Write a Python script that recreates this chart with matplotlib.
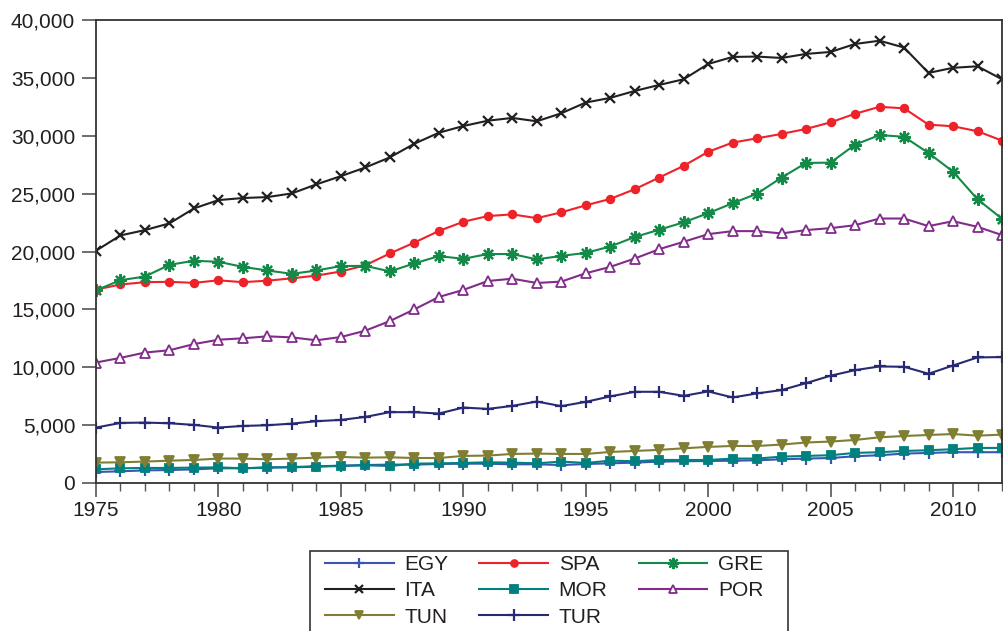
import numpy as np
import matplotlib
matplotlib.use("Agg")
import matplotlib.pyplot as plt
from matplotlib.patches import Rectangle
from matplotlib.ticker import FuncFormatter, MultipleLocator

plt.rcParams['font.family'] = ['Liberation Sans', 'DejaVu Sans']

years = np.arange(1975, 2013)

egy = [0.95, 1.01, 1.09, 1.12, 1.18, 1.27, 1.27, 1.33, 1.38, 1.44,
       1.50, 1.55, 1.59, 1.59, 1.64, 1.67, 1.67, 1.61, 1.62, 1.55,
       1.64, 1.70, 1.76, 1.85, 1.88, 1.90, 1.93, 1.96, 2.05, 2.11,
       2.16, 2.31, 2.40, 2.54, 2.60, 2.66, 2.66, 2.66]
spa = [16.71, 17.15, 17.35, 17.38, 17.29, 17.51, 17.35, 17.48, 17.68, 17.92,
       18.27, 18.81, 19.83, 20.77, 21.77, 22.57, 23.06, 23.21, 22.88, 23.38,
       23.99, 24.54, 25.38, 26.39, 27.40, 28.61, 29.41, 29.78, 30.16, 30.59,
       31.16, 31.90, 32.50, 32.37, 30.96, 30.82, 30.39, 29.58]
gre = [16.65, 17.52, 17.84, 18.85, 19.20, 19.11, 18.67, 18.36, 18.07, 18.36,
       18.74, 18.76, 18.28, 18.97, 19.60, 19.37, 19.78, 19.78, 19.32, 19.62,
       19.88, 20.43, 21.25, 21.88, 22.52, 23.31, 24.17, 25.00, 26.39, 27.65,
       27.68, 29.23, 30.06, 29.91, 28.51, 26.90, 24.51, 22.83]
ita = [20.07, 21.39, 21.85, 22.43, 23.72, 24.44, 24.62, 24.70, 25.02, 25.80,
       26.51, 27.26, 28.13, 29.31, 30.26, 30.84, 31.30, 31.54, 31.25, 31.94,
       32.87, 33.27, 33.87, 34.39, 34.88, 36.20, 36.81, 36.84, 36.72, 37.07,
       37.24, 37.93, 38.21, 37.62, 35.43, 35.87, 36.00, 34.88]
mor = [1.18, 1.27, 1.30, 1.30, 1.33, 1.35, 1.27, 1.35, 1.35, 1.41,
       1.47, 1.53, 1.47, 1.67, 1.70, 1.73, 1.79, 1.76, 1.70, 1.85,
       1.73, 1.93, 1.88, 1.99, 1.99, 1.99, 2.11, 2.11, 2.28, 2.34,
       2.40, 2.60, 2.66, 2.77, 2.83, 2.92, 3.03, 3.03]
por = [10.41, 10.81, 11.27, 11.47, 12.00, 12.38, 12.50, 12.67, 12.58, 12.33,
       12.61, 13.16, 13.99, 15.00, 16.07, 16.68, 17.45, 17.65, 17.28, 17.40,
       18.12, 18.67, 19.39, 20.20, 20.84, 21.50, 21.76, 21.76, 21.56, 21.85,
       22.02, 22.27, 22.85, 22.85, 22.19, 22.62, 22.13, 21.42]
tun = [1.76, 1.79, 1.85, 1.93, 1.99, 2.11, 2.11, 2.05, 2.11, 2.19,
       2.25, 2.19, 2.22, 2.16, 2.16, 2.34, 2.37, 2.51, 2.54, 2.51,
       2.51, 2.68, 2.77, 2.86, 3.00, 3.12, 3.20, 3.20, 3.32, 3.50,
       3.58, 3.72, 3.95, 4.06, 4.15, 4.23, 4.09, 4.18]
tur = [4.79, 5.19, 5.22, 5.16, 5.02, 4.79, 4.93, 4.99, 5.13, 5.34,
       5.45, 5.71, 6.12, 6.12, 6.00, 6.52, 6.40, 6.66, 7.04, 6.64,
       7.01, 7.48, 7.88, 7.88, 7.53, 7.91, 7.39, 7.74, 8.03, 8.63,
       9.27, 9.75, 10.07, 10.04, 9.44, 10.15, 10.85, 10.88]

# name, data, color, marker, size, filled
series = [
    ("EGY", egy, "#3a56b0", "+", 8, True),
    ("SPA", spa, "#ee2229", "o", 5.5, True),
    ("GRE", gre, "#138a47", (8, 2, 0), 9, True),
    ("ITA", ita, "#231f20", "x", 7, True),
    ("MOR", mor, "#00807f", "s", 6, True),
    ("POR", por, "#812c8a", "^", 7, False),
    ("TUN", tun, "#7f7e33", "v", 7, True),
    ("TUR", tur, "#272a72", "+", 9, True),
]

W, H = 1004, 631
fig = plt.figure(figsize=(W / 100, H / 100), dpi=100)
ax = fig.add_axes([96 / W, 1 - 483 / H, 906 / W, 463 / H])

handles = {}
for name, vals, col, mk, ms, filled in series:
    y = np.array(vals) * 1000
    mew = 1.6 if mk in ("+", "x") or mk == (8, 2, 0) else 1.3
    ln, = ax.plot(years, y, color=col, lw=1.5, marker=mk, markersize=ms,
                  markeredgewidth=mew, markeredgecolor=col,
                  markerfacecolor=col if filled else "white", label=name)
    handles[name] = ln

ax.set_xlim(1975, 2012)
ax.set_ylim(0, 40000)
ax.xaxis.set_major_locator(MultipleLocator(5))
ax.xaxis.set_minor_locator(MultipleLocator(1))
ax.yaxis.set_major_locator(MultipleLocator(5000))
ax.yaxis.set_major_formatter(FuncFormatter(lambda v, p: f"{int(v):,}"))
ax.tick_params(axis="both", which="major", direction="out", length=10,
               width=1.2, color="#555555", labelsize=15, labelcolor="#231f20")
ax.tick_params(axis="x", which="minor", direction="out", length=6,
               width=1.0, color="#555555")
ax.tick_params(axis="y", pad=5)
ax.tick_params(axis="x", pad=3)
for s in ax.spines.values():
    s.set_color("#333333")
    s.set_linewidth(1.3)

# legend box drawn separately, cut by the bottom edge as in the source
fig.patches.append(Rectangle((310 / W, -0.05), 478 / W, 1 - 551 / H + 0.05,
                             transform=fig.transFigure, fill=False,
                             edgecolor="#333333", lw=1.2))

order = ["EGY", "ITA", "TUN", "SPA", "MOR", "TUR", "GRE", "POR"]
leg = fig.legend([handles[n] for n in order], order, ncol=3,
                 loc="upper left", bbox_to_anchor=(325 / W, 1 - 555 / H),
                 borderaxespad=0, borderpad=0, fontsize=15, frameon=False,
                 handlelength=3.3, handletextpad=0.5,
                 columnspacing=1.5, labelspacing=0.35, markerscale=0.9)
for t in leg.get_texts():
    t.set_color("#231f20")

fig.savefig("out.png", dpi=100)
